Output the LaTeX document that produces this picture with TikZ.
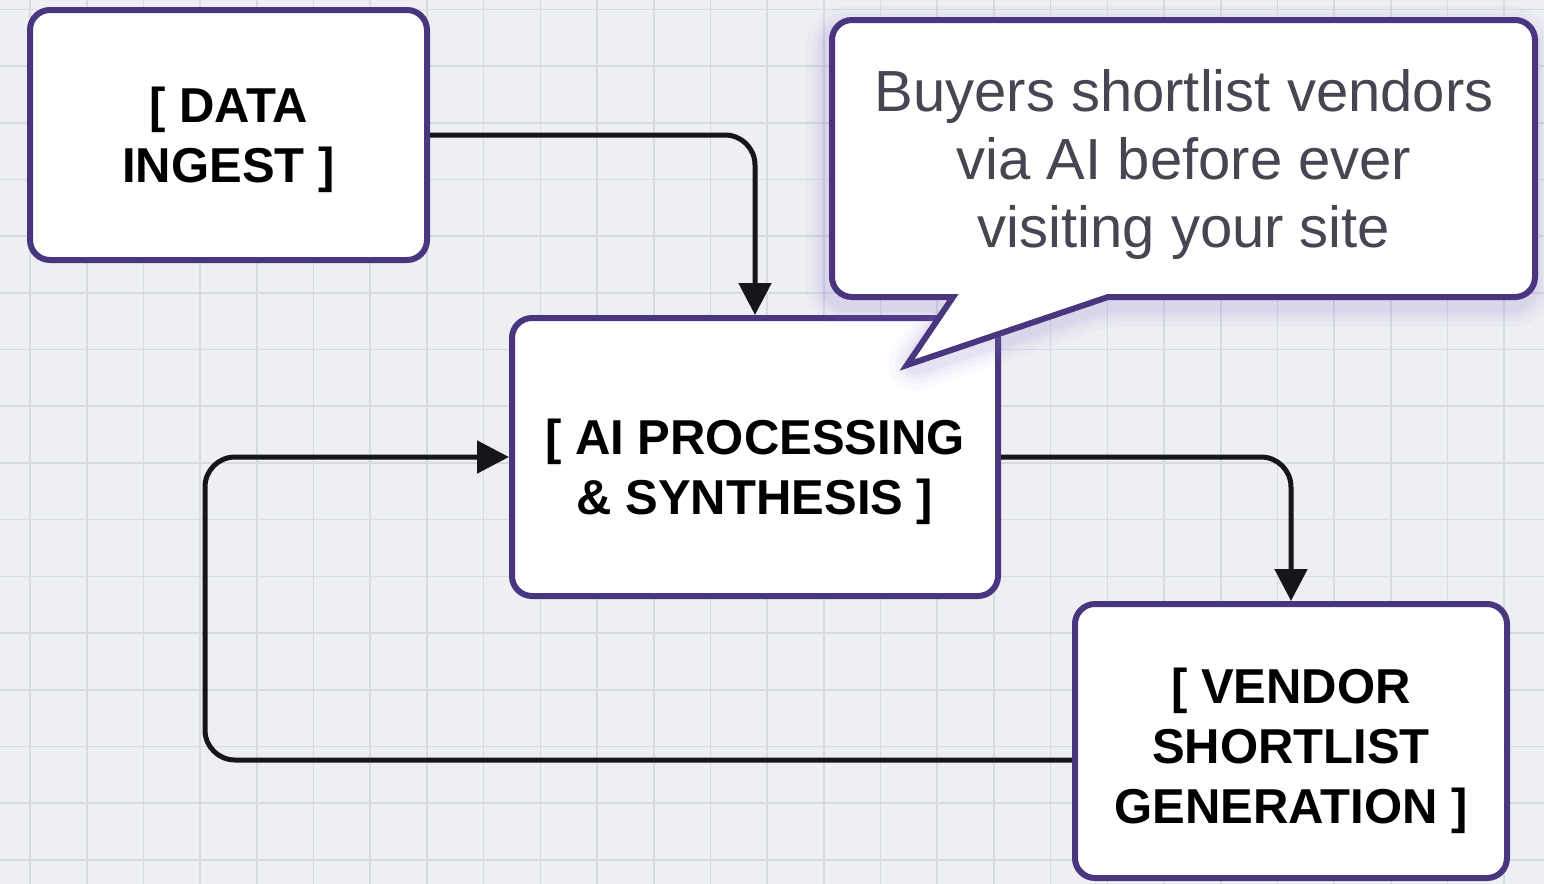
\documentclass[tikz,border=0pt]{standalone}
\usepackage{fontspec}
\setmainfont{Liberation Sans}
\usetikzlibrary{arrows.meta}
\definecolor{bgc}{RGB}{237,239,243}
\definecolor{gridc}{RGB}{214,218,225}
\definecolor{boxc}{RGB}{74,54,126}
\definecolor{arrc}{RGB}{22,22,26}
\definecolor{calltxt}{RGB}{70,70,82}
\definecolor{glowc}{RGB}{150,120,210}
\tikzset{
  stepbox/.style={draw=boxc, line width=3pt, fill=white, rounded corners=10pt,
    inner sep=0pt},
  boxlabel/.style={align=center, inner sep=0pt, text=black,
    font=\fontsize{24.5}{30}\selectfont\bfseries},
  flowline/.style={draw=arrc, line width=2.5pt, rounded corners=15pt,
    -{Triangle[length=16pt,width=16pt]}},
  calloutshape/.style={draw=boxc, line width=3pt, fill=white, line join=miter},
  calltext/.style={align=center, text=calltxt, font=\fontsize{29}{34}\selectfont}
}
\begin{document}
\begin{tikzpicture}[x=0.5pt,y=-0.5pt]
\useasboundingbox (0,0) rectangle (1544,884);
\fill[bgc] (0,0) rectangle (1544,884);
% grid
\foreach \i in {0,...,27} {
  \draw[gridc, line width=0.8pt] ({30+56.7*\i},0) -- ({30+56.7*\i},884);
}
\foreach \j in {0,...,15} {
  \draw[gridc, line width=0.8pt] (0,{9.3+56.7*\j}) -- (1544,{9.3+56.7*\j});
}
% boxes
\node[stepbox, minimum width=198.5pt, minimum height=125pt] (data) at (228.5,135) {};
\node[boxlabel] (dataT) at (228.5,140) {[ DATA\\INGEST ]};
\node[stepbox, minimum width=243pt, minimum height=139pt] (ai) at (755,457) {};
\node[boxlabel] (aiT) at (755,472) {[ AI PROCESSING\\\& SYNTHESIS ]};
\node[stepbox, minimum width=216pt, minimum height=137pt] (vendor) at (1291,741) {};
\node[boxlabel] (vendorT) at (1291,751) {[ VENDOR\\SHORTLIST\\GENERATION ]};
% connectors
\coordinate (lb) at (205,760);
\draw[flowline] (data.east) -| (ai.north);
\draw[flowline] (ai.east) -| (vendor.north);
\draw[flowline] (vendor.west |- lb) -- (lb) |- (ai.west);
% callout glow
\foreach \w/\o in {22/0.04,16/0.05,11/0.06,7/0.08} {
  \draw[glowc, opacity=\o, line width=\w pt, line join=round, rounded corners=10pt]
    ([shift={(-4,8)}]907,365) -- ([shift={(-4,8)}]953,297) -- ([shift={(-4,8)}]832,297)
    -- ([shift={(-4,8)}]832,20) -- ([shift={(-4,8)}]1535,20) -- ([shift={(-4,8)}]1535,297)
    -- ([shift={(-4,8)}]1108,297) -- cycle;
}
% callout
\draw[calloutshape] (1108,297) -- (907,365) -- (953,297) [rounded corners=10pt] -- (832,297)
  -- (832,20) -- (1535,20) -- (1535,297) [sharp corners] -- cycle;
\node[calltext] (note) at (1184,165)
  {Buyers shortlist vendors\\via AI before ever\\visiting your site};
\end{tikzpicture}
\end{document}
